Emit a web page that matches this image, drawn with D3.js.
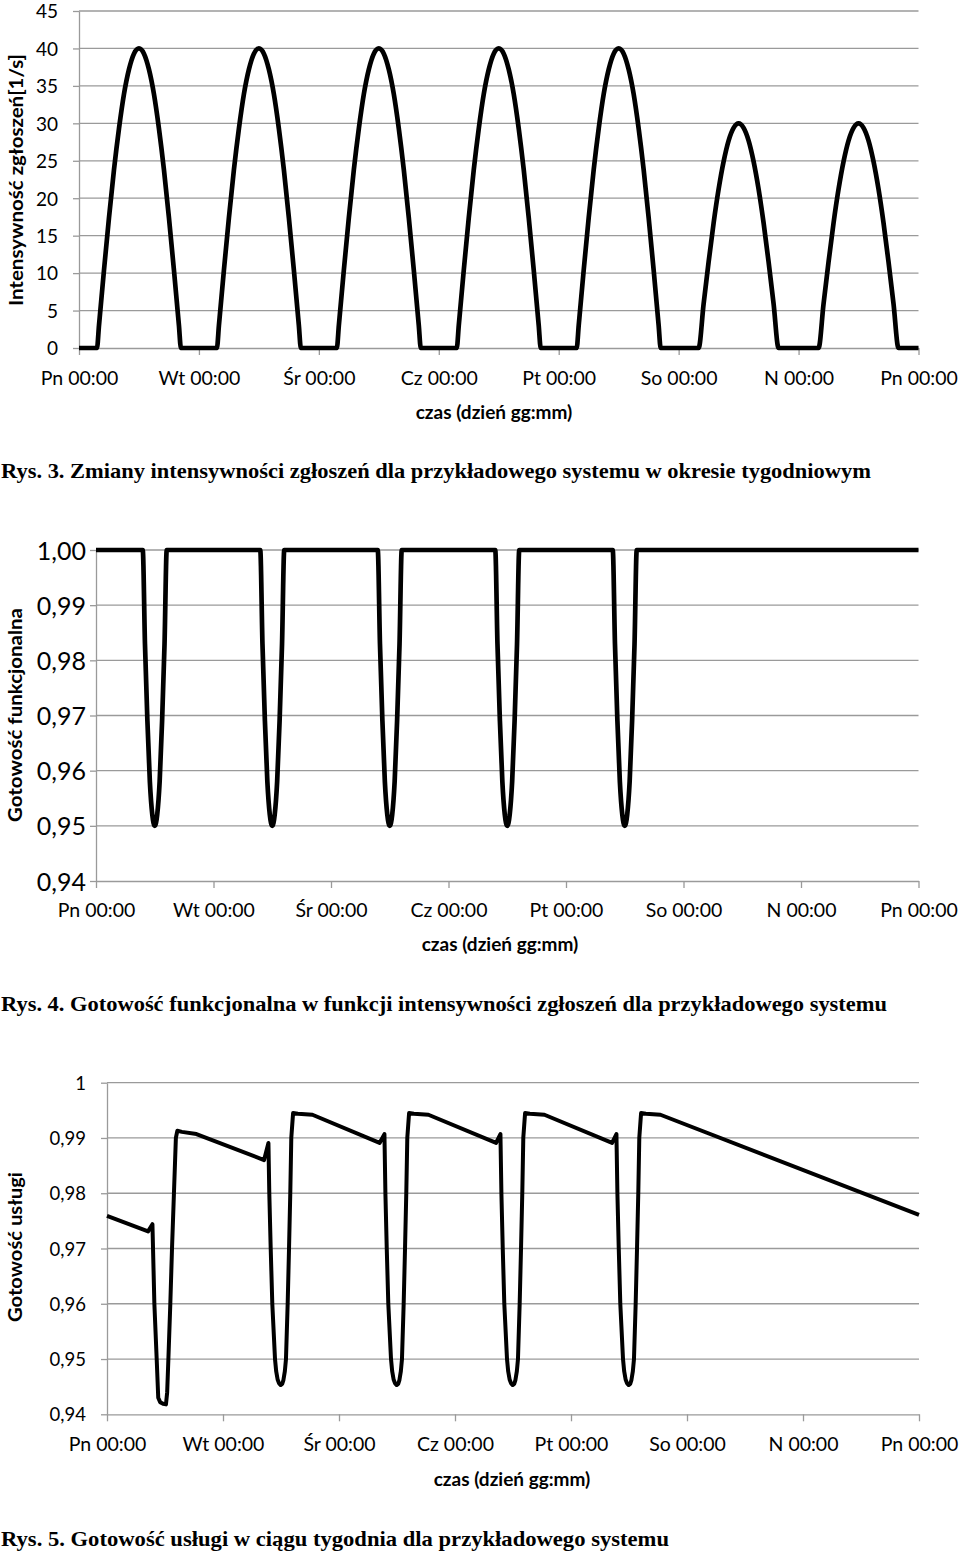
<!DOCTYPE html>
<html><head><meta charset="utf-8">
<script src="https://cdn.jsdelivr.net/npm/d3@7"></script>
<style>
body{margin:0;background:#fff}
svg{display:block}
text{font-family:Lato,"Open Sans",sans-serif;fill:#000}
</style>
</head><body>
<svg id="c" width="960" height="1552"></svg>
<script>
// ---------- shared x axis (hours from Monday 00:00) ----------
const dayTicks  = [0, 24, 48, 72, 96, 120, 144, 168];
const dayLabels = ["Pn 00:00","Wt 00:00","Śr 00:00","Cz 00:00","Pt 00:00","So 00:00","N 00:00","Pn 00:00"];
const xTitle = "czas (dzień gg:mm)";

// ---------- Rys. 3: intensity [1/s] ----------
const intensityHours = [
  0,3.6,4,5,6,7,8,9,10,11,12,13,14,15,16,17,18,19,20,20.4,
  27.6,28,29,30,31,32,33,34,35,36,37,38,39,40,41,42,43,44,44.4,
  51.6,52,53,54,55,56,57,58,59,60,61,62,63,64,65,66,67,68,68.4,
  75.6,76,77,78,79,80,81,82,83,84,85,86,87,88,89,90,91,92,92.4,
  99.6,100,101,102,103,104,105,106,107,108,109,110,111,112,113,114,115,116,116.4,
  124,125,126,127,128,129,130,131,132,133,134,135,136,137,138,139,140,
  148,149,150,151,152,153,154,155,156,157,158,159,160,161,162,163,164,
  168];
const intensityValues = [
  0,0,3,10.4,17.4,23.8,29.3,33.9,37.2,39.3,40,39.3,37.2,33.9,29.3,23.8,17.4,10.4,3,0,
  0,3,10.4,17.4,23.8,29.3,33.9,37.2,39.3,40,39.3,37.2,33.9,29.3,23.8,17.4,10.4,3,0,
  0,3,10.4,17.4,23.8,29.3,33.9,37.2,39.3,40,39.3,37.2,33.9,29.3,23.8,17.4,10.4,3,0,
  0,3,10.4,17.4,23.8,29.3,33.9,37.2,39.3,40,39.3,37.2,33.9,29.3,23.8,17.4,10.4,3,0,
  0,3,10.4,17.4,23.8,29.3,33.9,37.2,39.3,40,39.3,37.2,33.9,29.3,23.8,17.4,10.4,3,0,
  0,5.9,11.5,16.7,21.2,24.9,27.7,29.4,30,29.4,27.7,24.9,21.2,16.7,11.5,5.9,0,
  0,5.9,11.5,16.7,21.2,24.9,27.7,29.4,30,29.4,27.7,24.9,21.2,16.7,11.5,5.9,0,
  0];
const yTicks1 = [0,5,10,15,20,25,30,35,40,45];
const yTickLabels1 = ["0","5","10","15","20","25","30","35","40","45"];

// ---------- Rys. 4: functional readiness ----------
const readinessHours = [
  0,9.55,10,10.5,11,11.5,12,12.5,13,13.5,14,14.45,
  33.55,34,34.5,35,35.5,36,36.5,37,37.5,38,38.45,
  57.55,58,58.5,59,59.5,60,60.5,61,61.5,62,62.45,
  81.55,82,82.5,83,83.5,84,84.5,85,85.5,86,86.45,
  105.55,106,106.5,107,107.5,108,108.5,109,109.5,110,110.45,
  168];
const readinessValues = [
  1,1,0.983,0.969,0.958,0.952,0.950,0.952,0.958,0.969,0.983,1,
  1,0.983,0.969,0.958,0.952,0.950,0.952,0.958,0.969,0.983,1,
  1,0.983,0.969,0.958,0.952,0.950,0.952,0.958,0.969,0.983,1,
  1,0.983,0.969,0.958,0.952,0.950,0.952,0.958,0.969,0.983,1,
  1,0.983,0.969,0.958,0.952,0.950,0.952,0.958,0.969,0.983,1,
  1];
const yTicks2 = [0.94,0.95,0.96,0.97,0.98,0.99,1.00];
const yTickLabels2 = ["0,94","0,95","0,96","0,97","0,98","0,99","1,00"];

// ---------- Rys. 5: service readiness ----------
const serviceHours = [
  0,8.5,9.4,9.8,10.28,10.6,11.0,11.6,12.2,12.45,12.7,13.1,13.45,13.85,14.25,14.55,15.5,18.5,
  32.5,33.4,33.58,33.87,34.2,34.76,35.0,35.3,35.6,35.93,36.25,36.5,36.8,37.03,37.38,37.66,37.92,38.13,38.5,39.5,42.5,
  56.4,57.4,57.6,57.88,58.2,58.76,59.0,59.3,59.6,59.93,60.25,60.5,60.8,61.03,61.38,61.66,61.92,62.13,62.5,63.5,66.5,
  80.5,81.4,81.6,81.88,82.2,82.76,83.0,83.3,83.6,83.93,84.25,84.5,84.8,85.03,85.38,85.66,85.92,86.13,86.5,87.5,90.5,
  104.5,105.4,105.6,105.88,106.2,106.76,107.0,107.3,107.6,107.93,108.25,108.5,108.8,109.03,109.38,109.66,109.92,110.13,110.5,111.5,114.5,
  168];
const serviceValues = [
  0.9759,0.9731,0.9744,0.9600,0.9500,0.9430,0.9422,0.9419,0.9418,0.9440,0.9500,0.9600,0.9700,0.9800,0.9900,0.9913,0.9911,0.9907,
  0.9860,0.9891,0.9800,0.9700,0.9600,0.9500,0.9478,0.9463,0.9456,0.9453,0.9455,0.9462,0.9478,0.9500,0.9600,0.9700,0.9800,0.9900,0.9945,0.9944,0.9942,
  0.9891,0.9907,0.9800,0.9700,0.9600,0.9500,0.9478,0.9463,0.9456,0.9453,0.9455,0.9462,0.9478,0.9500,0.9600,0.9700,0.9800,0.9900,0.9945,0.9944,0.9942,
  0.9891,0.9907,0.9800,0.9700,0.9600,0.9500,0.9478,0.9463,0.9456,0.9453,0.9455,0.9462,0.9478,0.9500,0.9600,0.9700,0.9800,0.9900,0.9945,0.9944,0.9942,
  0.9891,0.9907,0.9800,0.9700,0.9600,0.9500,0.9478,0.9463,0.9456,0.9453,0.9455,0.9462,0.9478,0.9500,0.9600,0.9700,0.9800,0.9900,0.9945,0.9944,0.9942,
  0.9761];
const yTicks3 = [0.94,0.95,0.96,0.97,0.98,0.99,1];
const yTickLabels3 = ["0,94","0,95","0,96","0,97","0,98","0,99","1"];

const captions = [
  "Rys. 3. Zmiany intensywności zgłoszeń dla przykładowego systemu w okresie tygodniowym",
  "Rys. 4. Gotowość funkcjonalna w funkcji intensywności zgłoszeń dla przykładowego systemu",
  "Rys. 5. Gotowość usługi w ciągu tygodnia dla przykładowego systemu"
];
const yTitles = ["Intensywność zgłoszeń[1/s]", "Gotowość funkcjonalna", "Gotowość usługi"];

// ---------- drawing ----------
const svg = d3.select("#c");
const GRID = "#9a9a9a";

function drawChart(cfg) {
  const g = svg.append("g");
  const x = d3.scaleLinear().domain([0,168]).range([cfg.x0, cfg.x1]);
  const y = d3.scaleLinear().domain(cfg.yDomain).range([cfg.yBottom, cfg.yTop]);

  // horizontal gridlines
  g.selectAll("line.grid").data(cfg.yTicks.slice(1)).join("line")
    .attr("x1", cfg.x0).attr("x2", cfg.x1)
    .attr("y1", d => y(d)).attr("y2", d => y(d))
    .attr("stroke", GRID).attr("stroke-width", 1.3);

  // y axis
  const ya = g.append("g").attr("transform", `translate(${cfg.x0},0)`)
    .call(d3.axisLeft(y).tickValues(cfg.yTicks)
      .tickFormat((d,i) => cfg.yLabels[i]).tickSize(6).tickSizeOuter(0));
  ya.select(".domain").attr("stroke", GRID).attr("stroke-width", 1.3);
  ya.selectAll(".tick line").attr("stroke", GRID).attr("stroke-width", 1.3);
  ya.selectAll(".tick text").attr("x", -cfg.yLabelGap).attr("dy", "0.36em")
    .style("font-size", cfg.yFont + "px").attr("fill", "#000");

  // x axis
  const xa = g.append("g").attr("transform", `translate(0,${cfg.yBottom})`)
    .call(d3.axisBottom(x).tickValues(dayTicks)
      .tickFormat((d,i) => dayLabels[i]).tickSize(7).tickSizeOuter(0));
  xa.select(".domain").attr("stroke", GRID).attr("stroke-width", 1.3);
  xa.selectAll(".tick line").attr("stroke", GRID).attr("stroke-width", 1.3);
  xa.selectAll(".tick text").attr("y", cfg.xLabelY - cfg.yBottom).attr("dy", "0.36em")
    .style("font-size", cfg.xFont + "px").attr("fill", "#000");

  // data line
  const line = d3.line().x(d => x(d[0])).y(d => y(d[1])).curve(cfg.curve);
  const pts = cfg.hours.map((h,i) => [h, cfg.values[i]]);
  g.append("path").datum(pts).attr("d", line)
    .attr("fill", "none").attr("stroke", "#000").attr("stroke-width", cfg.lw)
    .attr("stroke-linejoin", "round");

  // y title
  g.append("text")
    .attr("transform", `translate(${cfg.yTitleX},${cfg.yTitleY}) rotate(-90)`)
    .attr("text-anchor", "middle").attr("dy", "0.36em")
    .style("font-size", "18px").style("font-weight", "bold")
    .attr("textLength", cfg.yTitleLen).attr("lengthAdjust", "spacingAndGlyphs")
    .text(cfg.yTitle);

  // x title
  g.append("text")
    .attr("x", cfg.xTitleX).attr("y", cfg.xTitleY)
    .attr("text-anchor", "middle").attr("dy", "0.36em")
    .style("font-size", "19px").style("font-weight", "bold")
    .text(xTitle);

  // caption
  g.append("text")
    .attr("x", 1).attr("y", cfg.capY).attr("dy", "0.36em")
    .style("font-family", "'Liberation Serif','Times New Roman',serif")
    .style("font-size", "21px").style("font-weight", "bold")
    .attr("textLength", cfg.capLen).attr("lengthAdjust", "spacingAndGlyphs")
    .text(cfg.caption);
}

drawChart({
  x0: 79, x1: 918.5, yTop: 11, yBottom: 348, yDomain: [0,45],
  yTicks: yTicks1, yLabels: yTickLabels1, yFont: 19, yLabelGap: 21,
  xFont: 19.5, xLabelY: 378,
  hours: intensityHours, values: intensityValues, curve: d3.curveMonotoneX, lw: 4.7,
  yTitle: yTitles[0], yTitleX: 17, yTitleY: 180, yTitleLen: 252,
  xTitleX: 494, xTitleY: 412,
  caption: captions[0], capY: 470, capLen: 870
});

drawChart({
  x0: 96, x1: 918.5, yTop: 550, yBottom: 881, yDomain: [0.94,1.00],
  yTicks: yTicks2, yLabels: yTickLabels2, yFont: 25, yLabelGap: 10,
  xFont: 19.5, xLabelY: 910,
  hours: readinessHours, values: readinessValues, curve: d3.curveMonotoneX, lw: 4.7,
  yTitle: yTitles[1], yTitleX: 16, yTitleY: 715, yTitleLen: 214,
  xTitleX: 500, xTitleY: 944,
  caption: captions[1], capY: 1003, capLen: 886
});

drawChart({
  x0: 107, x1: 919, yTop: 1082.7, yBottom: 1414.3, yDomain: [0.94,1],
  yTicks: yTicks3, yLabels: yTickLabels3, yFont: 18.5, yLabelGap: 21,
  xFont: 19.5, xLabelY: 1444,
  hours: serviceHours, values: serviceValues, curve: d3.curveLinear, lw: 4.0,
  yTitle: yTitles[2], yTitleX: 16, yTitleY: 1247, yTitleLen: 150,
  xTitleX: 512, xTitleY: 1479,
  caption: captions[2], capY: 1538, capLen: 668
});
</script>
</body></html>
